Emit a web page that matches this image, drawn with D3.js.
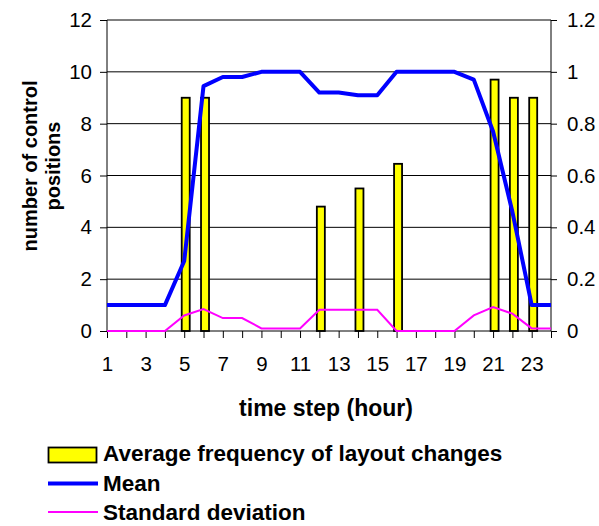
<!DOCTYPE html>
<html>
<head>
    <meta charset="utf-8">
    <script src="https://cdn.jsdelivr.net/npm/d3@7"></script>
    <style>
        body { margin: 0; background: white; }
        text { font-family: Arial, "Liberation Sans", sans-serif; fill: black; }
    </style>
</head>
<body>
<script>
    // data
    const hours = [1, 2, 3, 4, 5, 6, 7, 8, 9, 10, 11, 12, 13, 14, 15, 16, 17, 18, 19, 20, 21, 22, 23, 24];
    const freq = [0, 0, 0, 0, 0.9, 0.9, 0, 0, 0, 0, 0, 0.48, 0, 0.55, 0, 0.645, 0, 0, 0, 0, 0.97, 0.9, 0.9, 0];
    const mean = [1, 1, 1, 1, 2.7, 9.45, 9.8, 9.8, 10, 10, 10, 9.2, 9.2, 9.1, 9.1, 10, 10, 10, 10, 9.7, 7.7, 4.6, 1, 1];
    const stdev = [0, 0, 0, 0, 0.6, 0.85, 0.5, 0.5, 0.1, 0.1, 0.1, 0.82, 0.82, 0.82, 0.82, 0, 0, 0, 0, 0.6, 0.92, 0.67, 0.1, 0.1];
    const leftTicks = [0, 2, 4, 6, 8, 10, 12];
    const rightTicks = [0, 0.2, 0.4, 0.6, 0.8, 1, 1.2];
    const labelHours = [1, 3, 5, 7, 9, 11, 13, 15, 17, 19, 21, 23];

    const width = 599;
    const height = 526;
    const plotLeft = 107, plotRight = 551, plotTop = 20, plotBottom = 331;

    const svg = d3.select('body')
        .append('svg')
        .attr('width', width)
        .attr('height', height);

    const x = d3.scalePoint().domain(hours).range([plotLeft, plotRight]);
    const y = d3.scaleLinear().domain([0, 12]).range([plotBottom, plotTop]);
    const y2 = d3.scaleLinear().domain([0, 1.2]).range([plotBottom, plotTop]);

    // gridlines
    svg.append('g')
        .selectAll('line')
        .data(leftTicks.slice(1))
        .join('line')
        .attr('x1', plotLeft).attr('x2', plotRight)
        .attr('y1', d => y(d)).attr('y2', d => y(d))
        .attr('stroke', 'black')
        .attr('stroke-width', 1);

    // axes
    const yAxis = d3.axisLeft(y).tickValues(leftTicks).tickSize(7).tickPadding(8);
    const y2Axis = d3.axisRight(y2).tickValues(rightTicks).tickSize(6).tickPadding(10)
        .tickFormat(d => d3.format('~g')(d));
    const xAxis = d3.axisBottom(x).tickSize(7).tickPadding(18)
        .tickFormat(d => labelHours.includes(d) ? d : '');

    const styleAxis = g => {
        g.select('.domain').remove();
        g.selectAll('line').attr('stroke', 'black');
        g.selectAll('text').attr('font-size', 20.5).attr('font-family', 'Arial, "Liberation Sans", sans-serif');
    };

    svg.append('g').attr('transform', `translate(${plotLeft},0)`).call(yAxis).call(styleAxis);
    svg.append('g').attr('transform', `translate(${plotRight},0)`).call(y2Axis).call(styleAxis);
    svg.append('g').attr('transform', `translate(0,${plotBottom})`).call(xAxis).call(styleAxis);

    // bars (right axis)
    const barW = 8;
    svg.append('g')
        .selectAll('rect')
        .data(hours.map((h, i) => ({ h: h, v: freq[i] })).filter(d => d.v > 0))
        .join('rect')
        .attr('x', d => x(d.h) - barW / 2 + 1.5)
        .attr('y', d => y2(d.v))
        .attr('width', barW)
        .attr('height', d => plotBottom - y2(d.v))
        .attr('fill', '#ffff00')
        .attr('stroke', 'black')
        .attr('stroke-width', 1.8);

    // frame lines
    svg.append('line').attr('x1', plotLeft).attr('x2', plotLeft).attr('y1', plotTop).attr('y2', plotBottom).attr('stroke', 'black');
    svg.append('line').attr('x1', plotRight).attr('x2', plotRight).attr('y1', plotTop).attr('y2', plotBottom).attr('stroke', 'black');
    svg.append('line').attr('x1', plotLeft).attr('x2', plotRight).attr('y1', plotBottom).attr('y2', plotBottom).attr('stroke', 'black');

    // lines
    const line = d3.line().x((d, i) => x(hours[i])).y(d => y(d));
    svg.append('path')
        .attr('d', line(stdev))
        .attr('fill', 'none')
        .attr('stroke', '#ff00ff')
        .attr('stroke-width', 2);
    svg.append('path')
        .attr('d', line(mean))
        .attr('fill', 'none')
        .attr('stroke', '#0000ff')
        .attr('stroke-width', 4)
        .attr('stroke-linejoin', 'round');

    // titles
    svg.append('text')
        .attr('x', 326).attr('y', 416)
        .attr('text-anchor', 'middle')
        .attr('font-size', 23).attr('font-weight', 'bold')
        .text('time step (hour)');

    const yt = svg.append('text')
        .attr('transform', 'translate(37,166) rotate(-90)')
        .attr('text-anchor', 'middle')
        .attr('font-size', 20).attr('font-weight', 'bold');
    yt.append('tspan').attr('x', 0).attr('y', 0).text('number of control');
    yt.append('tspan').attr('x', 0).attr('y', 23).text('positions');

    // legend
    const legend = svg.append('g');
    legend.append('rect')
        .attr('x', 48.5).attr('y', 447.5).attr('width', 48).attr('height', 15)
        .attr('fill', '#ffff00').attr('stroke', 'black').attr('stroke-width', 1.8);
    legend.append('line')
        .attr('x1', 48).attr('x2', 98).attr('y1', 483.5).attr('y2', 483.5)
        .attr('stroke', '#0000ff').attr('stroke-width', 4);
    legend.append('line')
        .attr('x1', 48).attr('x2', 98).attr('y1', 512).attr('y2', 512)
        .attr('stroke', '#ff00ff').attr('stroke-width', 2);
    const labels = ['Average frequency of layout changes', 'Mean', 'Standard deviation'];
    const labelY = [461, 491, 520];
    legend.selectAll('text.lab')
        .data(labels)
        .join('text')
        .attr('class', 'lab')
        .attr('x', 103)
        .attr('y', (d, i) => labelY[i])
        .attr('font-size', 22.5).attr('font-weight', 'bold')
        .text(d => d);
</script>
</body>
</html>
